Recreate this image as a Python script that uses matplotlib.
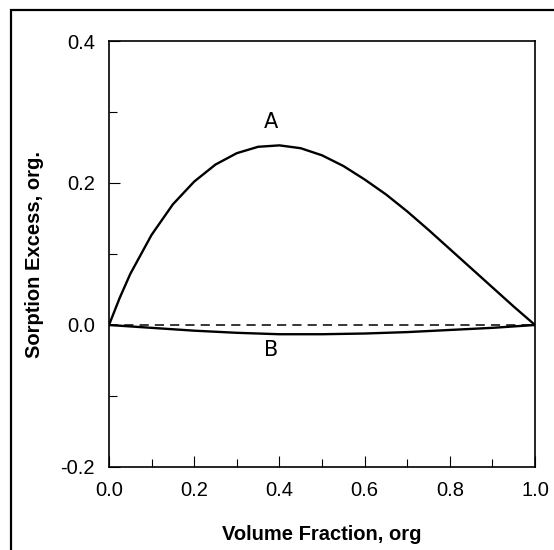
import matplotlib
matplotlib.use("Agg")
import matplotlib.pyplot as plt
from matplotlib.ticker import MultipleLocator
from matplotlib.patches import Rectangle

plt.rcParams['font.family'] = ['Liberation Sans', 'DejaVu Sans']

# Curve A (sorption excess, positive)
xa = [0.0, 0.025, 0.05, 0.1, 0.15, 0.2, 0.25, 0.3, 0.35, 0.4, 0.45, 0.5, 0.55,
      0.6, 0.65, 0.7, 0.75, 0.8, 0.85, 0.9, 0.95, 1.0]
ya = [0.0, 0.038, 0.072, 0.127, 0.170, 0.202, 0.226, 0.242, 0.251, 0.253, 0.249,
      0.239, 0.224, 0.205, 0.184, 0.160, 0.134, 0.107, 0.080, 0.053, 0.026, 0.0]
# Curve B (slightly negative)
xb = [0.0, 0.1, 0.2, 0.3, 0.4, 0.5, 0.6, 0.7, 0.8, 0.9, 1.0]
yb = [0.0, -0.004, -0.008, -0.011, -0.013, -0.013, -0.012, -0.010, -0.007, -0.004, 0.0]
# Reference zero line
xz = [0.0, 1.0]
yz = [0.0, 0.0]

xticks = [0.0, 0.2, 0.4, 0.6, 0.8, 1.0]
yticks = [-0.2, 0.0, 0.2, 0.4]

fig = plt.figure(figsize=(5.54, 5.5), dpi=100)
ax = fig.add_axes([109/554, 1-467/550, (535-109)/554, (467-41)/550])

ax.plot(xa, ya, color='black', lw=1.7, solid_joinstyle='round')
ax.plot(xb, yb, color='black', lw=1.7)
ax.plot(xz, yz, color='black', lw=1.1, ls=(0, (6, 4)))

ax.set_xlim(0, 1)
ax.set_ylim(-0.2, 0.4)
ax.set_xticks(xticks)
ax.set_yticks(yticks)
ax.set_xticklabels([f"{t:.1f}" for t in xticks])
ax.set_yticklabels([f"{t:.1f}" for t in yticks])
ax.xaxis.set_minor_locator(MultipleLocator(0.1))
ax.yaxis.set_minor_locator(MultipleLocator(0.1))
ax.tick_params(which='both', direction='in', top=False, right=False, labelsize=14.5)
ax.tick_params(axis='x', pad=10)
ax.tick_params(axis='y', pad=10)
ax.tick_params(which='major', length=8, width=0.8)
ax.tick_params(which='minor', length=6, width=0.8)
for s in ax.spines.values():
    s.set_linewidth(1.2)

ax.set_xlabel("Volume Fraction, org", fontsize=14.5, fontweight='bold', labelpad=18)
ax.set_ylabel("Sorption Excess, org.", fontsize=14.5, fontweight='bold', labelpad=12)

ax.text(0.38, 0.272, "A", fontsize=15, ha='center', va='bottom', family='DejaVu Sans')
ax.text(0.38, -0.035, "B", fontsize=15, ha='center', va='center', family='DejaVu Sans')

fig.patches.append(Rectangle((11/554, -0.01), 1.0, 1-10/550+0.01, transform=fig.transFigure,
                             fill=False, edgecolor='black', lw=1.6))

fig.savefig("out.png", dpi=100)
